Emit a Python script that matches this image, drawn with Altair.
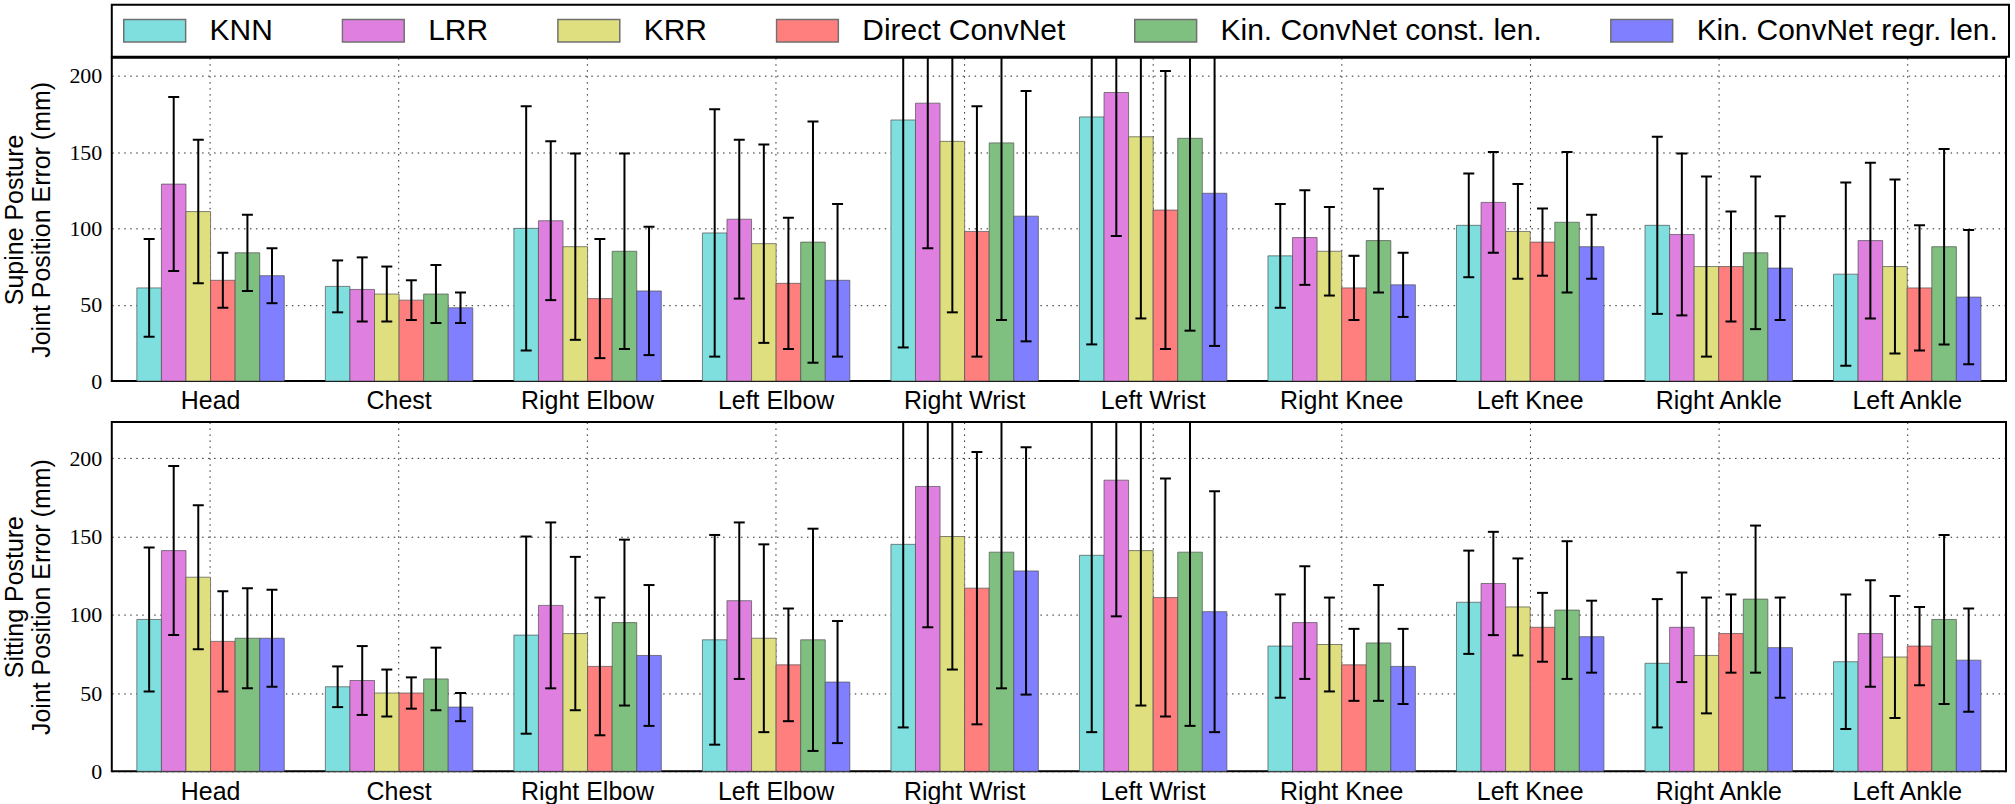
import altair as alt
import pandas as pd

joints = ["Head", "Chest", "Right Elbow", "Left Elbow", "Right Wrist",
          "Left Wrist", "Right Knee", "Left Knee", "Right Ankle", "Left Ankle"]
methods = ["KNN", "LRR", "KRR", "Direct ConvNet",
           "Kin. ConvNet const. len.", "Kin. ConvNet regr. len."]
colors = ["#7fdfdf", "#df7fdf", "#dfdf7f", "#ff7f7f", "#7fbf7f", "#7f7fff"]

# Supine posture: mean error and spread per method (one value per joint)
supine_knn_mean = [61, 62, 100, 97, 171, 173, 82, 102, 102, 70]
supine_knn_std = [32, 17, 80, 81, 149, 149, 34, 34, 58, 60]
supine_lrr_mean = [129, 60, 105, 106, 182, 189, 94, 117, 96, 92]
supine_lrr_std = [57, 21, 52, 52, 95, 94, 31, 33, 53, 51]
supine_krr_mean = [111, 57, 88, 90, 157, 160, 85, 98, 75, 75]
supine_krr_std = [47, 18, 61, 65, 112, 119, 29, 31, 59, 57]
supine_direct_mean = [66, 53, 54, 64, 98, 112, 61, 91, 75, 61]
supine_direct_std = [18, 13, 39, 43, 82, 91, 21, 22, 36, 41]
supine_const_mean = [84, 57, 85, 91, 156, 159, 92, 104, 84, 88]
supine_const_std = [25, 19, 64, 79, 116, 126, 34, 46, 50, 64]
supine_regr_mean = [69, 48, 59, 66, 108, 123, 63, 88, 74, 55]
supine_regr_std = [18, 10, 42, 50, 82, 100, 21, 21, 34, 44]

# Sitting posture
sitting_knn_mean = [97, 54, 87, 84, 145, 138, 80, 108, 69, 70]
sitting_knn_std = [46, 13, 63, 67, 117, 113, 33, 33, 41, 43]
sitting_lrr_mean = [141, 58, 106, 109, 182, 186, 95, 120, 92, 88]
sitting_lrr_std = [54, 22, 53, 50, 90, 87, 36, 33, 35, 34]
sitting_krr_mean = [124, 50, 88, 85, 150, 141, 81, 105, 74, 73]
sitting_krr_std = [46, 15, 49, 60, 85, 99, 30, 31, 37, 39]
sitting_direct_mean = [83, 50, 67, 68, 117, 111, 68, 92, 88, 80]
sitting_direct_std = [32, 10, 44, 36, 87, 76, 23, 22, 25, 25]
sitting_const_mean = [85, 59, 95, 84, 140, 140, 82, 103, 110, 97]
sitting_const_std = [32, 20, 53, 71, 87, 111, 37, 44, 47, 54]
sitting_regr_mean = [85, 41, 74, 57, 128, 102, 67, 86, 79, 71]
sitting_regr_std = [31, 9, 45, 39, 79, 77, 24, 23, 32, 33]

y_ticks = [0, 50, 100, 150, 200]


def make_df(means, stds):
    rows = []
    for m, mean_list, std_list in zip(methods, means, stds):
        for j, mu, sd in zip(joints, mean_list, std_list):
            rows.append({"joint": j, "method": m, "mean": mu,
                         "lo": mu - sd, "hi": mu + sd})
    return pd.DataFrame(rows)


supine_df = make_df(
    [supine_knn_mean, supine_lrr_mean, supine_krr_mean,
     supine_direct_mean, supine_const_mean, supine_regr_mean],
    [supine_knn_std, supine_lrr_std, supine_krr_std,
     supine_direct_std, supine_const_std, supine_regr_std])
sitting_df = make_df(
    [sitting_knn_mean, sitting_lrr_mean, sitting_krr_mean,
     sitting_direct_mean, sitting_const_mean, sitting_regr_mean],
    [sitting_knn_std, sitting_lrr_std, sitting_krr_std,
     sitting_direct_std, sitting_const_std, sitting_regr_std])

SANS = "Liberation Sans"
SERIF = "Liberation Serif"
W = 1898


def panel(df, title_lines, ymax, height, show_legend):
    xenc = alt.X("joint:N", sort=joints,
                 scale=alt.Scale(paddingInner=0.218, paddingOuter=0.133),
                 axis=alt.Axis(title=None, labelAngle=0, labelFont=SANS,
                               labelFontSize=25, labelColor="black",
                               labelPadding=8, ticks=False, domain=False,
                               grid=True, gridColor="black", gridOpacity=0.85,
                               gridDash=[1.5, 4.5], gridWidth=1,
                               bandPosition=0.5))
    xoff = alt.XOffset("method:N", sort=methods,
                       scale=alt.Scale(paddingInner=0, paddingOuter=0))
    yscale = alt.Scale(domain=[0, ymax], nice=False, zero=True)
    yaxis = alt.Axis(title=title_lines, values=y_ticks, labelFont=SERIF,
                     labelFontSize=22, labelColor="black", labelPadding=10,
                     ticks=False, domain=False, grid=True, gridColor="black",
                     gridOpacity=0.85, gridDash=[1.5, 4.5], gridWidth=1,
                     titleFont=SANS, titleFontSize=25,
                     titleFontWeight="normal", titleColor="black",
                     titleLineHeight=27, titlePadding=14)
    if show_legend:
        legend = alt.Legend(title=None, orient="top", direction="horizontal",
                            columns=6, clipHeight=30,
                            symbolType="M-1,-0.365H1V0.365H-1Z",
                            symbolSize=3844, symbolStrokeColor="#707070",
                            symbolStrokeWidth=1.5, symbolOpacity=1,
                            labelFont=SANS, labelFontSize=30,
                            labelColor="black", labelOffset=23,
                            labelLimit=500, columnPadding=68, padding=11,
                            strokeColor="black", offset=1)
        color = alt.Color("method:N", sort=methods,
                          scale=alt.Scale(domain=methods, range=colors),
                          legend=legend)
    else:
        color = alt.Color("method:N", sort=methods,
                          scale=alt.Scale(domain=methods, range=colors),
                          legend=None)

    base = alt.Chart(df).encode(x=xenc, xOffset=xoff)
    bars = base.mark_bar(stroke="#505050", strokeWidth=1,
                         strokeOpacity=0.7, opacity=1).encode(
        y=alt.Y("mean:Q", scale=yscale, axis=yaxis), color=color)
    rules = base.mark_rule(color="black", strokeWidth=2, clip=True).encode(
        y=alt.Y("lo:Q", scale=yscale), y2="hi:Q")
    cap_hi = base.mark_tick(orient="horizontal", color="black", size=11,
                            thickness=2, clip=True, opacity=1).encode(
        y=alt.Y("hi:Q", scale=yscale))
    cap_lo = base.mark_tick(orient="horizontal", color="black", size=11,
                            thickness=2, clip=True, opacity=1).encode(
        y=alt.Y("lo:Q", scale=yscale))
    return alt.layer(bars, rules, cap_hi, cap_lo).properties(
        width=W, height=height)


top = panel(supine_df, ["Supine Posture", "Joint Position Error (mm)"],
            211.8, 324, True)
bottom = panel(sitting_df, ["Sitting Posture", "Joint Position Error (mm)"],
               223.2, 350, False)

chart = alt.vconcat(top, bottom, spacing=6).resolve_scale(
    color="independent", y="independent", x="independent",
    xOffset="independent"
).properties(
    background="white",
    padding={"left": 2, "top": 2, "right": 4, "bottom": 2}
).configure_view(stroke="black", strokeWidth=2).configure_legend(
    strokeWidth=2
)

chart.save("out.html", embed_options={"renderer": "svg", "actions": False})
